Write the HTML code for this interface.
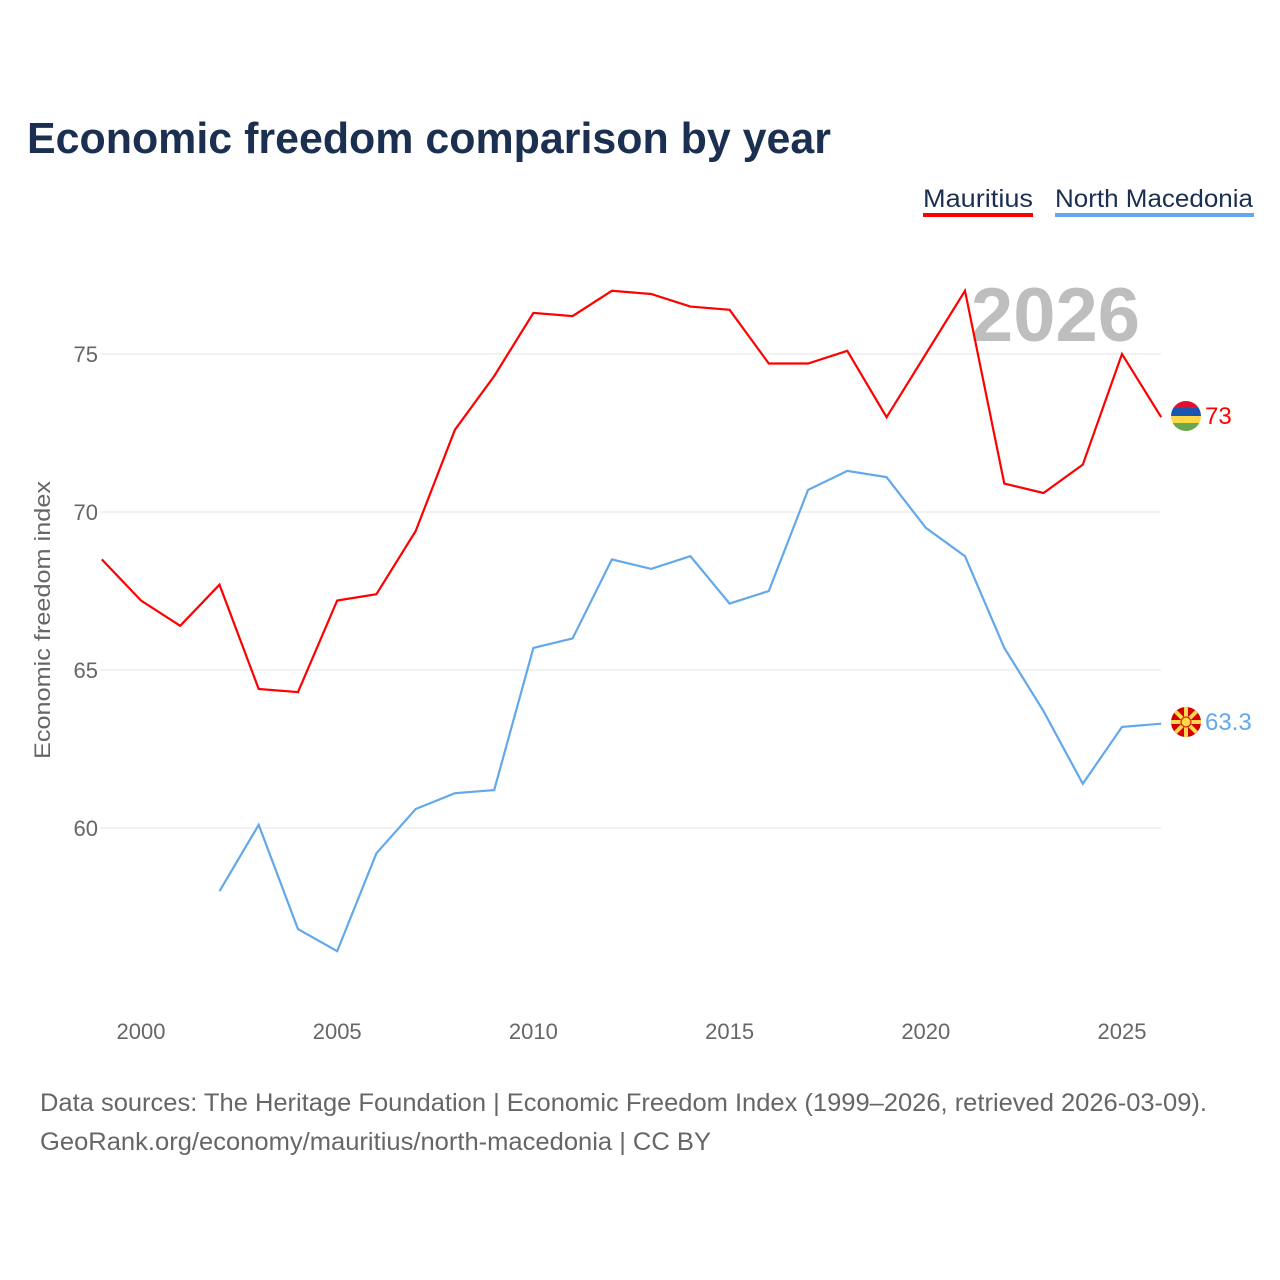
<!DOCTYPE html>
<html><head><meta charset="utf-8"><style>
body{margin:0;background:#fff;font-family:"Liberation Sans",sans-serif;}
</style></head><body>
<svg id="chart" width="1280" height="1280" viewBox="0 0 1280 1280" xmlns="http://www.w3.org/2000/svg" style="display:block">
<text x="27" y="153" font-size="44" font-weight="bold" fill="#1b3050" textLength="804" lengthAdjust="spacingAndGlyphs">Economic freedom comparison by year</text>
<g><text x="923" y="207" font-size="25" fill="#1b3050" textLength="110" lengthAdjust="spacingAndGlyphs">Mauritius</text><rect x="923" y="213" width="110" height="4" fill="#ff0000"/></g>
<g><text x="1055" y="207" font-size="25" fill="#1b3050" textLength="198" lengthAdjust="spacingAndGlyphs">North Macedonia</text><rect x="1055" y="213" width="199" height="4" fill="#63a8ea"/></g>
<text x="1140" y="341" text-anchor="end" font-size="76" font-weight="bold" fill="#bebebe">2026</text>
<g id="grid"></g><g id="lines"></g>
<text transform="translate(50,620) rotate(-90)" text-anchor="middle" font-size="22" fill="#666" textLength="278" lengthAdjust="spacingAndGlyphs">Economic freedom index</text>
<g>
<clipPath id="c1"><circle cx="1186" cy="416" r="15"/></clipPath>
<g clip-path="url(#c1)"><rect x="1171" y="401" width="30" height="8" fill="#e0102e"/><rect x="1171" y="408" width="30" height="8" fill="#1a56b0"/><rect x="1171" y="416" width="30" height="8" fill="#ffd84a"/><rect x="1171" y="423" width="30" height="8" fill="#6aa84f"/></g>
<text x="1205" y="424" font-size="24" fill="#ff0000">73</text></g>
<g>
<clipPath id="c2"><circle cx="1186" cy="722" r="15"/></clipPath>
<g clip-path="url(#c2)"><rect x="1171" y="707" width="30" height="30" fill="#d20000"/>
<g stroke="#ffd84a" stroke-width="4"><line x1="1171" y1="722" x2="1201" y2="722"/><line x1="1186" y1="707" x2="1186" y2="737"/><line x1="1175" y1="711" x2="1197" y2="733"/><line x1="1197" y1="711" x2="1175" y2="733"/></g>
<circle cx="1186" cy="722" r="5" fill="#ffd84a" stroke="#d20000" stroke-width="1"/></g>
<text x="1205" y="730" font-size="24" fill="#63a8ea">63.3</text></g>
<text x="40" y="1111" font-size="25" fill="#666" textLength="1167" lengthAdjust="spacingAndGlyphs">Data sources: The Heritage Foundation | Economic Freedom Index (1999–2026, retrieved 2026-03-09).</text>
<text x="40" y="1150" font-size="25" fill="#666" textLength="671" lengthAdjust="spacingAndGlyphs">GeoRank.org/economy/mauritius/north-macedonia | CC BY</text>
</svg>
<script>
const years=[1999,2000,2001,2002,2003,2004,2005,2006,2007,2008,2009,2010,2011,2012,2013,2014,2015,2016,2017,2018,2019,2020,2021,2022,2023,2024,2025,2026];
const mauritius=[68.5,67.2,66.4,67.7,64.4,64.3,67.2,67.4,69.4,72.6,74.3,76.3,76.2,77.0,76.9,76.5,76.4,74.7,74.7,75.1,73.0,75.0,77.0,70.9,70.6,71.5,75.0,73.0];
const macedonia=[null,null,null,58.0,60.1,56.8,56.1,59.2,60.6,61.1,61.2,65.7,66.0,68.5,68.2,68.6,67.1,67.5,70.7,71.3,71.1,69.5,68.6,65.7,63.7,61.4,63.2,63.3];
const yTicks=[60,65,70,75];
const xTicks=[2000,2005,2010,2015,2020,2025];
const X=y=>141+(y-2000)*39.24;
const Y=v=>828-(v-60)*31.6;
const NS="http://www.w3.org/2000/svg";
const grid=document.getElementById('grid'),lines=document.getElementById('lines');
yTicks.forEach(t=>{
 const l=document.createElementNS(NS,'line');
 
 
 l.setAttribute('x1',100);l.setAttribute('x2',1161);l.setAttribute('y1',Y(t));l.setAttribute('y2',Y(t));
 l.setAttribute('stroke','#e6e6e6');l.setAttribute('stroke-width',1);grid.appendChild(l);
 const tx=document.createElementNS(NS,'text');
 
 
 tx.setAttribute('x',98);tx.setAttribute('y',Y(t)+8);tx.setAttribute('text-anchor','end');
 tx.setAttribute('font-size',22);tx.setAttribute('fill','#666');tx.textContent=t;grid.appendChild(tx);
});
xTicks.forEach(t=>{
 const tx=document.createElementNS(NS,'text');
 
 
 tx.setAttribute('x',X(t));tx.setAttribute('y',1039);tx.setAttribute('text-anchor','middle');
 tx.setAttribute('font-size',22);tx.setAttribute('fill','#666');tx.textContent=t;grid.appendChild(tx);
});
function draw(vals,color,name){
 let d='',pen=false;
 vals.forEach((v,i)=>{if(v==null){pen=false;return;}d+=(pen?'L':'M')+X(years[i]).toFixed(1)+','+Y(v).toFixed(1);pen=true;});
 const p=document.createElementNS(NS,'path');
 
 
 p.setAttribute('d',d);p.setAttribute('fill','none');p.setAttribute('stroke',color);p.setAttribute('stroke-width',2.2);
 lines.appendChild(p);
}
draw(mauritius,'#ff0000','line-mauritius');
draw(macedonia,'#63a8ea','line-north-macedonia');
</script>
</body></html>
